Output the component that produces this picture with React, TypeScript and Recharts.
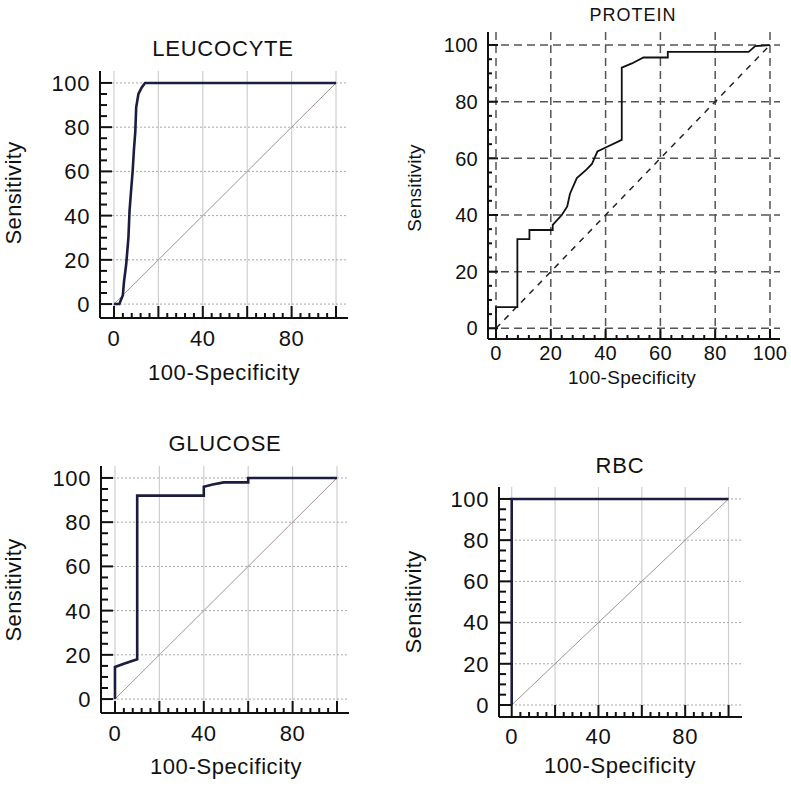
import React from 'react';
import { LineChart, Line, XAxis, YAxis, ReferenceLine } from 'recharts';

// ---------- data ----------
const leucocyteFpr = [0, 2.4, 4, 4.5, 5.5, 6.5, 7, 7.6, 8.4, 9, 9.6, 10, 11, 12.5, 14, 100];
const leucocyteTpr = [0, 0, 4, 10, 18, 30, 42, 50, 60, 70, 78, 89, 95, 98, 100, 100];

const proteinFpr = [0, 0, 7.8, 7.8, 12.2, 12.2, 20.7, 20.7, 24, 26, 27, 29.5, 33, 35, 37, 40.4, 45.9, 45.9, 49.6, 53.8, 62.7, 62.7, 92.2, 94.6, 100];
const proteinTpr = [0, 7.5, 7.5, 31.5, 31.5, 34.7, 34.7, 36.5, 40, 43, 47.5, 53, 56, 58, 62.4, 64, 66.5, 92, 93.5, 95.6, 95.6, 97.6, 97.6, 99.6, 100];

const glucoseFpr = [0, 0, 4, 10, 10, 40, 40, 44, 49, 60, 60, 100];
const glucoseTpr = [0, 14.5, 16, 18, 92, 92, 96, 97, 98, 98, 100, 100];

const rbcFpr = [0, 0, 100];
const rbcTpr = [0, 100, 100];

const diagonalFpr = [0, 100];
const diagonalTpr = [0, 100];

const gridValues = [0, 20, 40, 60, 80, 100];
const xTickValues = [0, 4, 8, 12, 16, 20, 24, 28, 32, 36, 40, 44, 48, 52, 56, 60, 64, 68, 72, 76, 80, 84, 88, 92, 96, 100];
const yTickValues = [0, 5, 10, 15, 20, 25, 30, 35, 40, 45, 50, 55, 60, 65, 70, 75, 80, 85, 90, 95, 100];
const xLabelsSparse = [0, 40, 80];
const xLabelsFull = [0, 20, 40, 60, 80, 100];
const yLabels = [0, 20, 40, 60, 80, 100];

const zip = (xs: number[], ys: number[]) => xs.map((x, i) => ({ x, y: ys[i] }));

const FONT = '"Liberation Sans", Arial, Helvetica, sans-serif';
const INK = '#111';

type Cfg = {
  title: string;
  data: { x: number; y: number }[];
  plot: { x: number; y: number; w: number; h: number };
  xDom: [number, number];
  yDom: [number, number];
  xLabels: number[];
  curveColor: string;
  curveWidth: number;
  style: 'light' | 'dashed';
  tickFont: number;
  titleFont: number;
  labelFont: number;
  spacing: number;
  titleSpacing: number;
  title_pos: [number, number];
  xTickDy: number;
  yTickDx: number;
  xLabelPos: [number, number];
  yLabelPos: [number, number];
  majorLen: number;
  minorXLen: number;
  minorYLen: number;
};

const YW = 110;
const XH = 90;
const MT = 70;
const MR = 10;

const Panel = ({ cfg }: { cfg: Cfg }) => {
  const chartLeft = cfg.plot.x - YW;
  const chartTop = cfg.plot.y - MT;
  const width = cfg.plot.w + YW + MR;
  const height = cfg.plot.h + MT + XH;

  const XTick = (p: any) => {
    const { x, y, payload } = p;
    const v = payload.value;
    const major = v % 20 === 0;
    const len = major ? cfg.majorLen : cfg.minorXLen;
    return (
      <g>
        <line x1={x} x2={x} y1={y} y2={y - len} stroke={INK} strokeWidth={2} />
        {cfg.xLabels.includes(v) && (
          <text x={x} y={y + cfg.xTickDy} textAnchor="middle" fontSize={cfg.tickFont} fill={INK} fontFamily={FONT} letterSpacing={cfg.spacing}>
            {v}
          </text>
        )}
      </g>
    );
  };

  const YTick = (p: any) => {
    const { x, y, payload } = p;
    const v = payload.value;
    const major = v % 20 === 0;
    const len = major ? cfg.majorLen : cfg.minorYLen;
    return (
      <g>
        <line x1={x} x2={x + len} y1={y} y2={y} stroke={INK} strokeWidth={2} />
        {yLabels.includes(v) && (
          <text x={x - cfg.yTickDx} y={y + cfg.tickFont * 0.36} textAnchor="end" fontSize={cfg.tickFont} fill={INK} fontFamily={FONT} letterSpacing={cfg.spacing}>
            {v}
          </text>
        )}
      </g>
    );
  };

  const xLabel = () => (
    <text
      x={cfg.xLabelPos[0] - chartLeft}
      y={cfg.xLabelPos[1] - chartTop}
      textAnchor="middle"
      fontSize={cfg.labelFont}
      fill={INK}
      fontFamily={FONT}
      letterSpacing={cfg.spacing}
    >
      100-Specificity
    </text>
  );

  const yLabel = () => {
    const lx = cfg.yLabelPos[0] - chartLeft;
    const ly = cfg.yLabelPos[1] - chartTop;
    return (
      <text
        x={lx}
        y={ly}
        transform={`rotate(-90 ${lx} ${ly})`}
        textAnchor="middle"
        fontSize={cfg.labelFont}
        fill={INK}
        fontFamily={FONT}
        letterSpacing={cfg.spacing * 0.6}
      >
        Sensitivity
      </text>
    );
  };

  const dashed = cfg.style === 'dashed';

  return (
    <div style={{ position: 'absolute', left: chartLeft, top: chartTop }}>
      <div
        style={{
          position: 'absolute',
          left: cfg.title_pos[0] - chartLeft - 150,
          top: cfg.title_pos[1] - chartTop - cfg.titleFont * 0.9,
          width: 300,
          textAlign: 'center',
          fontFamily: FONT,
          fontSize: cfg.titleFont,
          letterSpacing: cfg.titleSpacing,
          lineHeight: 1,
          color: INK,
        }}
      >
        {cfg.title}
      </div>
      <LineChart width={width} height={height} margin={{ top: MT, right: MR, left: 0, bottom: 0 }}>
        <XAxis
          type="number"
          dataKey="x"
          domain={cfg.xDom}
          allowDataOverflow
          ticks={xTickValues}
          interval={0}
          tickSize={0}
          tickMargin={0}
          tickLine={false}
          height={XH}
          axisLine={{ stroke: INK, strokeWidth: 2 }}
          tick={XTick}
          label={xLabel}
        />
        <YAxis
          type="number"
          dataKey="y"
          domain={cfg.yDom}
          allowDataOverflow
          ticks={yTickValues}
          interval={0}
          tickSize={0}
          tickMargin={0}
          tickLine={false}
          width={YW}
          axisLine={{ stroke: INK, strokeWidth: 2 }}
          tick={YTick}
          label={yLabel}
        />
        {gridValues.map((v) => (
          <ReferenceLine
            key={'gx' + v}
            x={v}
            stroke={dashed ? '#555' : '#cfcfcf'}
            strokeWidth={dashed ? 1.5 : 1.2}
            strokeDasharray={dashed ? '8 5' : undefined}
          />
        ))}
        {gridValues.map((v) => (
          <ReferenceLine
            key={'gy' + v}
            y={v}
            stroke={dashed ? '#555' : '#a8a8a8'}
            strokeWidth={dashed ? 1.5 : 1}
            strokeDasharray={dashed ? '8 5' : '2 2'}
          />
        ))}
        <Line
          data={zip(diagonalFpr, diagonalTpr)}
          dataKey="y"
          type="linear"
          stroke={dashed ? '#222' : '#a09494'}
          strokeWidth={dashed ? 1.5 : 1}
          strokeDasharray={dashed ? '6 6' : undefined}
          dot={false}
          activeDot={false}
          isAnimationActive={false}
        />
        <Line
          data={cfg.data}
          dataKey="y"
          type="linear"
          stroke={cfg.curveColor}
          strokeWidth={cfg.curveWidth}
          dot={false}
          activeDot={false}
          isAnimationActive={false}
        />
      </LineChart>
    </div>
  );
};

const panels: Cfg[] = [
  {
    title: 'LEUCOCYTE',
    data: zip(leucocyteFpr, leucocyteTpr),
    plot: { x: 100, y: 71, w: 248, h: 247 },
    xDom: [-6.3, 105.4],
    yDom: [-6.3, 105.4],
    xLabels: xLabelsSparse,
    curveColor: '#1c1c40',
    curveWidth: 2.6,
    style: 'light',
    tickFont: 22,
    titleFont: 22,
    labelFont: 22,
    spacing: 0.6,
    titleSpacing: 0.8,
    title_pos: [223, 58],
    xTickDy: 28,
    yTickDx: 10,
    xLabelPos: [224, 380],
    yLabelPos: [21, 193],
    majorLen: 12,
    minorXLen: 5,
    minorYLen: 7,
  },
  {
    title: 'PROTEIN',
    data: zip(proteinFpr, proteinTpr),
    plot: { x: 488, y: 32, w: 292, h: 307 },
    xDom: [-2.92, 103.65],
    yDom: [-3.78, 104.6],
    xLabels: xLabelsFull,
    curveColor: '#111',
    curveWidth: 1.8,
    style: 'dashed',
    tickFont: 20,
    titleFont: 18,
    labelFont: 19,
    spacing: 0.3,
    titleSpacing: 1,
    title_pos: [633, 22],
    xTickDy: 21,
    yTickDx: 10,
    xLabelPos: [632, 384],
    yLabelPos: [421, 188],
    majorLen: 10,
    minorXLen: 4,
    minorYLen: 4,
  },
  {
    title: 'GLUCOSE',
    data: zip(glucoseFpr, glucoseTpr),
    plot: { x: 101, y: 466, w: 248, h: 247 },
    xDom: [-6.3, 105.4],
    yDom: [-6.3, 105.4],
    xLabels: xLabelsSparse,
    curveColor: '#1c1c40',
    curveWidth: 2.6,
    style: 'light',
    tickFont: 22,
    titleFont: 22,
    labelFont: 22,
    spacing: 0.6,
    titleSpacing: 0.8,
    title_pos: [225, 453],
    xTickDy: 28,
    yTickDx: 10,
    xLabelPos: [226, 774],
    yLabelPos: [21, 590],
    majorLen: 12,
    minorXLen: 5,
    minorYLen: 7,
  },
  {
    title: 'RBC',
    data: zip(rbcFpr, rbcTpr),
    plot: { x: 499, y: 487, w: 243, h: 230 },
    xDom: [-5.86, 106.2],
    yDom: [-5.83, 105.8],
    xLabels: xLabelsSparse,
    curveColor: '#1c1c40',
    curveWidth: 2.6,
    style: 'light',
    tickFont: 22,
    titleFont: 22,
    labelFont: 22,
    spacing: 0.6,
    titleSpacing: 0.8,
    title_pos: [620, 475],
    xTickDy: 27,
    yTickDx: 10,
    xLabelPos: [620, 773],
    yLabelPos: [421, 602],
    majorLen: 12,
    minorXLen: 5,
    minorYLen: 7,
  },
];

export default function App() {
  return (
    <div style={{ position: 'absolute', left: 0, top: 0, width: 791, height: 786, background: '#fff', overflow: 'hidden' }}>
      {panels.map((p) => (
        <Panel key={p.title} cfg={p} />
      ))}
    </div>
  );
}
